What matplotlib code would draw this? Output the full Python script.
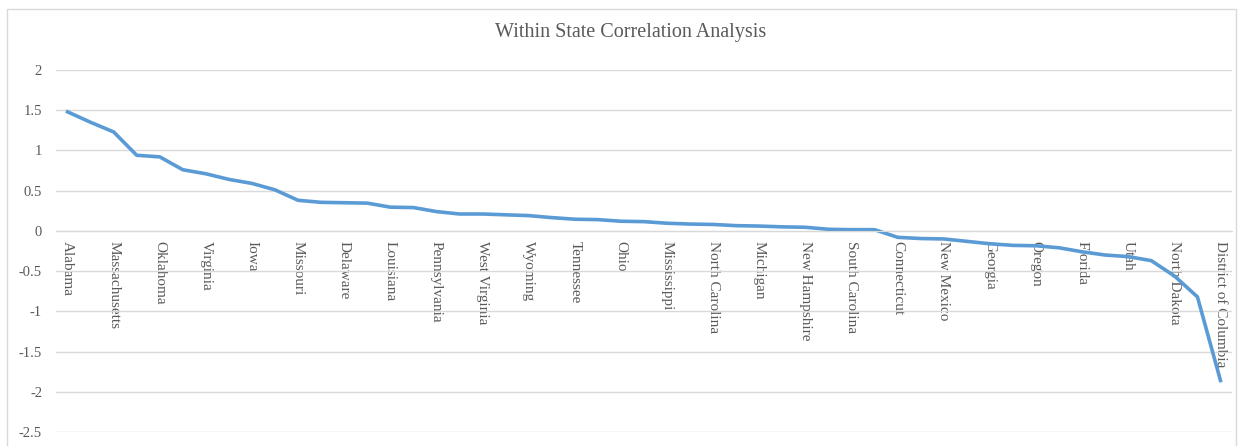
import numpy as np
import matplotlib
matplotlib.use("Agg")
import matplotlib.pyplot as plt
from matplotlib.patches import Rectangle

states = ["Alabama", "Alaska", "Massachusetts", "Arizona", "Oklahoma", "Arkansas",
          "Virginia", "California", "Iowa", "Colorado", "Missouri", "Hawaii",
          "Delaware", "Idaho", "Louisiana", "Illinois", "Pennsylvania", "Indiana",
          "West Virginia", "Kansas", "Wyoming", "Kentucky", "Tennessee", "Maine",
          "Ohio", "Maryland", "Mississippi", "Minnesota", "North Carolina", "Montana",
          "Michigan", "Nebraska", "New Hampshire", "Nevada", "South Carolina",
          "New Jersey", "Connecticut", "New York", "New Mexico", "Rhode Island",
          "Georgia", "South Dakota", "Oregon", "Texas", "Florida", "Vermont",
          "Utah", "Washington", "North Dakota", "Wisconsin", "District of Columbia"]
corr = [1.48, 1.35, 1.23, 0.94, 0.92, 0.76, 0.71, 0.64, 0.59, 0.51,
        0.38, 0.355, 0.35, 0.345, 0.295, 0.29, 0.24, 0.21, 0.21, 0.20,
        0.19, 0.165, 0.145, 0.14, 0.12, 0.115, 0.095, 0.085, 0.08, 0.065,
        0.06, 0.05, 0.045, 0.02, 0.015, 0.015, -0.08, -0.095, -0.10, -0.13,
        -0.16, -0.18, -0.185, -0.21, -0.26, -0.30, -0.32, -0.37, -0.56, -0.82,
        -1.86]
yticks = [2, 1.5, 1, 0.5, 0, -0.5, -1, -1.5, -2, -2.5]

txt = "#595959"
grid = "#D9D9D9"
serif = "Liberation Serif"

fig = plt.figure(figsize=(12.44, 4.46), dpi=100)
fig.patches.append(Rectangle((7 / 1244, -0.05), 1229 / 1244, 1 - 9 / 446 + 0.05,
                             transform=fig.transFigure, fill=False,
                             edgecolor=grid, linewidth=1))
ax = fig.add_axes([56 / 1244, 1 - 432 / 446, 1176 / 1244, 362 / 446])

for s in ["top", "right", "left"]:
    ax.spines[s].set_visible(False)
ax.spines["bottom"].set_position(("data", 0))
ax.spines["bottom"].set_color(grid)

x = np.arange(len(states))
ax.plot(x, corr, color="#5B9BD5", linewidth=2.6, solid_joinstyle="round")

ax.set_xlim(-0.5, len(states) - 0.5)
ax.set_ylim(-2.5, 2)
ax.set_yticks(yticks)
ax.set_yticklabels([f"{v:g}" for v in yticks], fontfamily=serif, fontsize=10.5, color=txt)
ax.grid(axis="y", color=grid, linewidth=1)
ax.set_axisbelow(True)

ax.set_xticks(x[::2])
ax.set_xticklabels(states[::2], rotation=-90, fontfamily=serif, fontsize=11,
                   color=txt, va="top", ha="center")
ax.tick_params(axis="x", length=0, pad=7)
ax.tick_params(axis="y", length=0, pad=10)

fig.text(0.507, 1 - 33 / 446, "Within State Correlation Analysis", ha="center",
         va="center", fontfamily=serif, fontsize=14.5, color=txt)

fig.savefig("out.png", dpi=100, facecolor="white")
